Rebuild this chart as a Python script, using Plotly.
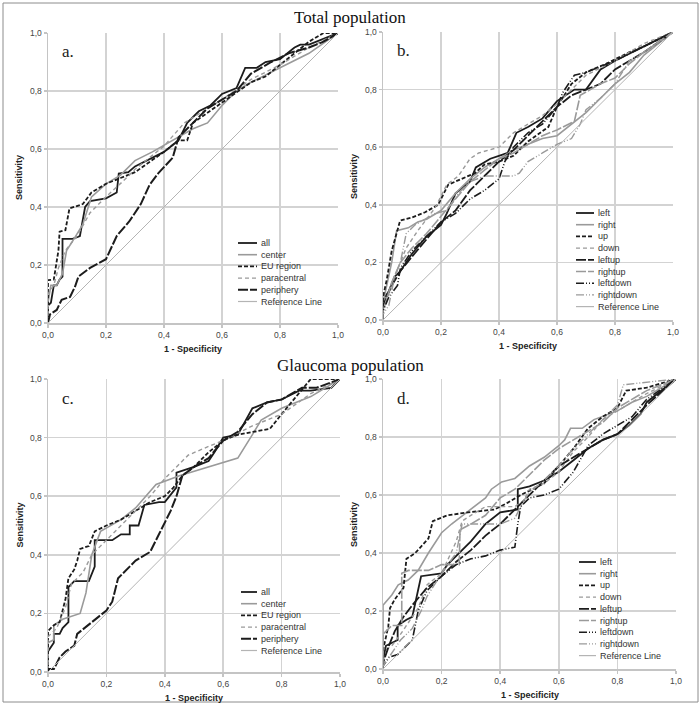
import plotly.graph_objects as go

# ---------------- data (1 - specificity, sensitivity) ----------------
TICK_VALS = [0.0, 0.2, 0.4, 0.6, 0.8, 1.0]
TICK_TEXT = ["0,0", "0,2", "0,4", "0,6", "0,8", "1,0"]
Y_GRID_VALS = [0.2, 0.4, 0.6, 0.8]

REF = [(0, 0), (1, 1)]

# Panel a - Total population, regions
A_ALL = [(0, 0), (0, 0.06), (0.01, 0.07), (0.02, 0.13), (0.03, 0.13), (0.04, 0.15), (0.05, 0.16),
         (0.05, 0.29), (0.085, 0.29), (0.11, 0.30), (0.128, 0.40), (0.145, 0.42), (0.20, 0.43),
         (0.237, 0.45), (0.244, 0.515), (0.277, 0.52), (0.30, 0.54), (0.36, 0.57), (0.40, 0.59),
         (0.45, 0.63), (0.48, 0.69), (0.52, 0.73), (0.56, 0.75), (0.59, 0.78), (0.60, 0.79),
         (0.65, 0.81), (0.68, 0.88), (0.72, 0.88), (0.75, 0.90), (0.80, 0.91), (0.85, 0.95),
         (0.87, 0.96), (0.90, 0.96), (1, 1)]
A_CENTER = [(0, 0), (0, 0.07), (0.01, 0.13), (0.03, 0.13), (0.05, 0.17), (0.064, 0.25), (0.087, 0.286),
            (0.12, 0.34), (0.15, 0.435), (0.20, 0.48), (0.25, 0.51), (0.30, 0.56), (0.36, 0.59),
            (0.45, 0.64), (0.50, 0.67), (0.55, 0.69), (0.60, 0.75), (0.65, 0.80), (0.70, 0.83),
            (0.80, 0.88), (0.90, 0.93), (1, 1)]
A_EU = [(0, 0), (0, 0.148), (0.02, 0.15), (0.036, 0.25), (0.04, 0.315), (0.06, 0.32), (0.074, 0.395),
        (0.12, 0.41), (0.15, 0.45), (0.20, 0.48), (0.25, 0.50), (0.30, 0.52), (0.40, 0.59),
        (0.45, 0.63), (0.48, 0.63), (0.50, 0.69), (0.60, 0.76), (0.70, 0.83), (0.75, 0.85),
        (0.80, 0.89), (0.90, 0.97), (0.95, 1.0), (1, 1)]
A_PARA = [(0, 0), (0, 0.10), (0.02, 0.13), (0.036, 0.19), (0.06, 0.25), (0.10, 0.30), (0.145, 0.38),
          (0.20, 0.435), (0.26, 0.49), (0.30, 0.53), (0.35, 0.57), (0.40, 0.61), (0.47, 0.69),
          (0.55, 0.74), (0.60, 0.77), (0.70, 0.84), (0.80, 0.89), (0.90, 0.95), (1, 1)]
A_PERI = [(0, 0), (0.007, 0.03), (0.03, 0.045), (0.047, 0.08), (0.076, 0.09), (0.093, 0.125),
          (0.105, 0.16), (0.145, 0.19), (0.20, 0.22), (0.237, 0.30), (0.28, 0.35), (0.32, 0.41),
          (0.35, 0.476), (0.38, 0.516), (0.43, 0.57), (0.45, 0.64), (0.50, 0.69), (0.55, 0.74),
          (0.60, 0.77), (0.65, 0.80), (0.70, 0.86), (0.77, 0.90), (0.83, 0.93), (0.90, 0.95),
          (0.95, 0.97), (1, 1)]

# Panel b - Total population, quadrants
B_LEFT = [(0, 0), (0, 0.07), (0.02, 0.10), (0.04, 0.15), (0.06, 0.17), (0.10, 0.23), (0.15, 0.29),
          (0.20, 0.33), (0.22, 0.37), (0.25, 0.44), (0.30, 0.48), (0.32, 0.53), (0.37, 0.56),
          (0.43, 0.58), (0.46, 0.65), (0.50, 0.67), (0.55, 0.70), (0.60, 0.76), (0.66, 0.80),
          (0.70, 0.80), (0.75, 0.87), (0.80, 0.90), (0.90, 0.95), (1, 1)]
B_RIGHT = [(0, 0), (0, 0.06), (0.03, 0.20), (0.047, 0.31), (0.087, 0.32), (0.12, 0.34), (0.15, 0.35),
           (0.20, 0.38), (0.25, 0.44), (0.30, 0.49), (0.35, 0.53), (0.40, 0.56), (0.45, 0.59),
           (0.50, 0.61), (0.55, 0.63), (0.60, 0.64), (0.65, 0.68), (0.70, 0.72), (0.75, 0.77),
           (0.80, 0.82), (0.85, 0.86), (0.90, 0.92), (1, 1)]
B_UP = [(0, 0), (0, 0.08), (0.013, 0.14), (0.03, 0.24), (0.059, 0.345), (0.10, 0.356), (0.145, 0.374),
        (0.19, 0.40), (0.225, 0.47), (0.27, 0.49), (0.317, 0.51), (0.35, 0.54), (0.40, 0.55),
        (0.45, 0.57), (0.50, 0.62), (0.57, 0.67), (0.60, 0.74), (0.65, 0.82), (0.70, 0.86),
        (0.77, 0.89), (0.85, 0.93), (0.90, 0.95), (1, 1)]
B_DOWN = [(0, 0), (0, 0.05), (0.04, 0.15), (0.08, 0.25), (0.12, 0.31), (0.18, 0.39), (0.22, 0.47),
          (0.26, 0.50), (0.30, 0.56), (0.33, 0.58), (0.40, 0.60), (0.45, 0.65), (0.50, 0.68),
          (0.55, 0.71), (0.60, 0.75), (0.65, 0.80), (0.70, 0.85), (0.80, 0.90), (0.90, 0.96), (1, 1)]
B_LEFTUP = [(0, 0), (0, 0.05), (0.03, 0.12), (0.06, 0.17), (0.10, 0.22), (0.15, 0.28), (0.20, 0.34),
            (0.25, 0.38), (0.30, 0.45), (0.35, 0.50), (0.40, 0.55), (0.45, 0.59), (0.50, 0.64),
            (0.55, 0.69), (0.60, 0.74), (0.65, 0.78), (0.70, 0.80), (0.75, 0.82), (0.80, 0.87),
            (0.90, 0.93), (1, 1)]
B_RIGHTUP = [(0, 0), (0, 0.03), (0.03, 0.13), (0.06, 0.20), (0.10, 0.25), (0.15, 0.30), (0.20, 0.36),
             (0.25, 0.42), (0.30, 0.48), (0.35, 0.52), (0.40, 0.56), (0.45, 0.58), (0.50, 0.61),
             (0.55, 0.64), (0.60, 0.66), (0.66, 0.69), (0.68, 0.78), (0.75, 0.82), (0.80, 0.84),
             (0.85, 0.89), (0.90, 0.93), (1, 1)]
B_LEFTDOWN = [(0, 0), (0, 0.03), (0.02, 0.08), (0.05, 0.12), (0.06, 0.18), (0.10, 0.24), (0.15, 0.29),
              (0.20, 0.34), (0.25, 0.37), (0.30, 0.42), (0.35, 0.45), (0.40, 0.49), (0.42, 0.55),
              (0.45, 0.60), (0.50, 0.65), (0.55, 0.68), (0.60, 0.74), (0.62, 0.79), (0.66, 0.85),
              (0.70, 0.86), (0.75, 0.88), (0.80, 0.90), (0.90, 0.95), (1, 1)]
B_RIGHTDOWN = [(0, 0), (0, 0.02), (0.02, 0.05), (0.04, 0.15), (0.06, 0.20), (0.08, 0.30), (0.11, 0.33),
               (0.18, 0.37), (0.22, 0.38), (0.26, 0.44), (0.30, 0.48), (0.35, 0.50), (0.40, 0.50),
               (0.45, 0.50), (0.47, 0.51), (0.50, 0.55), (0.55, 0.58), (0.60, 0.61), (0.65, 0.63),
               (0.68, 0.68), (0.70, 0.73), (0.75, 0.77), (0.80, 0.82), (0.85, 0.90), (0.90, 0.93), (1, 1)]

# Panel c - Glaucoma population, regions
C_ALL = [(0, 0), (0, 0.07), (0.02, 0.10), (0.02, 0.13), (0.04, 0.13), (0.05, 0.15), (0.07, 0.17),
         (0.07, 0.29), (0.09, 0.31), (0.14, 0.31), (0.16, 0.36), (0.16, 0.45), (0.22, 0.45),
         (0.25, 0.47), (0.28, 0.47), (0.28, 0.50), (0.31, 0.50), (0.33, 0.57), (0.38, 0.58),
         (0.40, 0.58), (0.44, 0.63), (0.44, 0.68), (0.50, 0.70), (0.55, 0.72), (0.57, 0.75),
         (0.60, 0.80), (0.65, 0.81), (0.70, 0.90), (0.75, 0.92), (0.80, 0.93), (0.86, 0.96),
         (0.90, 0.96), (0.97, 0.97), (1, 1)]
C_CENTER = [(0, 0), (0, 0.10), (0.02, 0.11), (0.02, 0.16), (0.05, 0.18), (0.11, 0.20), (0.13, 0.27),
            (0.15, 0.40), (0.18, 0.48), (0.25, 0.52), (0.30, 0.56), (0.37, 0.64), (0.45, 0.67),
            (0.55, 0.70), (0.65, 0.73), (0.70, 0.81), (0.73, 0.86), (0.80, 0.90), (0.90, 0.94), (1, 1)]
C_EU = [(0, 0), (0, 0.14), (0.02, 0.16), (0.04, 0.17), (0.06, 0.25), (0.07, 0.32), (0.09, 0.35),
        (0.10, 0.38), (0.11, 0.42), (0.14, 0.43), (0.16, 0.48), (0.20, 0.50), (0.25, 0.52),
        (0.30, 0.55), (0.35, 0.58), (0.40, 0.60), (0.43, 0.63), (0.46, 0.67), (0.50, 0.70),
        (0.55, 0.75), (0.60, 0.79), (0.65, 0.81), (0.70, 0.82), (0.76, 0.83), (0.80, 0.88),
        (0.85, 0.94), (0.90, 1.0), (1, 1)]
C_PARA = [(0, 0), (0, 0.12), (0.03, 0.15), (0.06, 0.22), (0.08, 0.30), (0.12, 0.34), (0.15, 0.40),
          (0.20, 0.45), (0.25, 0.50), (0.30, 0.55), (0.35, 0.60), (0.40, 0.66), (0.48, 0.74),
          (0.55, 0.77), (0.60, 0.79), (0.70, 0.84), (0.80, 0.88), (0.90, 0.95), (1, 1)]
C_PERI = [(0, 0), (0, 0.01), (0.02, 0.01), (0.04, 0.05), (0.06, 0.07), (0.09, 0.09), (0.10, 0.13),
          (0.15, 0.17), (0.20, 0.21), (0.22, 0.24), (0.24, 0.32), (0.30, 0.38), (0.35, 0.41),
          (0.38, 0.47), (0.42, 0.55), (0.44, 0.60), (0.46, 0.67), (0.50, 0.70), (0.55, 0.73),
          (0.60, 0.79), (0.65, 0.82), (0.70, 0.88), (0.75, 0.92), (0.80, 0.93), (0.87, 0.97),
          (0.92, 0.97), (1, 1)]

# Panel d - Glaucoma population, quadrants
D_LEFT = [(0, 0), (0, 0.03), (0.01, 0.08), (0.03, 0.09), (0.05, 0.10), (0.05, 0.15), (0.08, 0.17),
          (0.10, 0.18), (0.13, 0.32), (0.20, 0.33), (0.22, 0.36), (0.30, 0.44), (0.35, 0.50),
          (0.40, 0.54), (0.46, 0.55), (0.46, 0.62), (0.50, 0.63), (0.55, 0.65), (0.60, 0.68),
          (0.65, 0.72), (0.70, 0.76), (0.75, 0.79), (0.80, 0.81), (0.84, 0.84), (0.88, 0.88),
          (0.90, 0.92), (0.95, 0.96), (1, 1)]
D_RIGHT = [(0, 0), (0, 0.22), (0.03, 0.255), (0.052, 0.29), (0.086, 0.307), (0.12, 0.34), (0.155, 0.40),
           (0.20, 0.47), (0.234, 0.50), (0.28, 0.537), (0.31, 0.56), (0.35, 0.59), (0.37, 0.62),
           (0.405, 0.645), (0.45, 0.657), (0.50, 0.70), (0.55, 0.73), (0.60, 0.77), (0.62, 0.79),
           (0.64, 0.83), (0.68, 0.83), (0.72, 0.86), (0.80, 0.89), (0.85, 0.92), (0.90, 0.94), (1, 1)]
D_UP = [(0, 0), (0, 0.065), (0.018, 0.146), (0.024, 0.21), (0.04, 0.24), (0.07, 0.28), (0.08, 0.38),
        (0.11, 0.40), (0.155, 0.45), (0.17, 0.51), (0.22, 0.53), (0.29, 0.54), (0.38, 0.55),
        (0.42, 0.57), (0.47, 0.60), (0.55, 0.64), (0.60, 0.70), (0.65, 0.76), (0.70, 0.83),
        (0.75, 0.87), (0.80, 0.90), (0.83, 0.96), (0.90, 0.97), (1, 1)]
D_DOWN = [(0, 0), (0, 0.06), (0.03, 0.08), (0.06, 0.12), (0.10, 0.18), (0.12, 0.21), (0.15, 0.29),
          (0.20, 0.33), (0.25, 0.44), (0.27, 0.51), (0.30, 0.53), (0.35, 0.56), (0.45, 0.56),
          (0.48, 0.58), (0.50, 0.62), (0.55, 0.64), (0.60, 0.68), (0.65, 0.75), (0.70, 0.80),
          (0.75, 0.86), (0.80, 0.89), (0.90, 0.95), (1, 1)]
D_LEFTUP = [(0, 0), (0, 0.02), (0.02, 0.08), (0.04, 0.13), (0.07, 0.18), (0.10, 0.22), (0.15, 0.28),
            (0.20, 0.32), (0.25, 0.37), (0.30, 0.41), (0.35, 0.46), (0.40, 0.50), (0.45, 0.55),
            (0.50, 0.60), (0.55, 0.65), (0.60, 0.70), (0.65, 0.73), (0.70, 0.76), (0.75, 0.79),
            (0.80, 0.81), (0.85, 0.86), (0.90, 0.91), (1, 1)]
D_RIGHTUP = [(0, 0), (0, 0.12), (0.03, 0.15), (0.064, 0.15), (0.064, 0.33), (0.087, 0.34), (0.155, 0.34),
             (0.20, 0.36), (0.26, 0.36), (0.263, 0.48), (0.30, 0.50), (0.35, 0.53), (0.40, 0.59),
             (0.45, 0.62), (0.50, 0.67), (0.55, 0.72), (0.60, 0.76), (0.70, 0.82), (0.75, 0.85),
             (0.80, 0.90), (0.90, 0.96), (1, 1)]
D_LEFTDOWN = [(0, 0), (0, 0.01), (0.02, 0.04), (0.05, 0.05), (0.07, 0.07), (0.10, 0.10), (0.12, 0.20),
              (0.15, 0.27), (0.20, 0.32), (0.25, 0.36), (0.30, 0.38), (0.35, 0.39), (0.40, 0.41),
              (0.45, 0.42), (0.46, 0.50), (0.47, 0.56), (0.50, 0.59), (0.55, 0.60), (0.60, 0.62),
              (0.65, 0.68), (0.70, 0.77), (0.75, 0.81), (0.80, 0.84), (0.85, 0.87), (0.90, 0.93), (1, 1)]
D_RIGHTDOWN = [(0, 0), (0, 0.01), (0.02, 0.04), (0.06, 0.10), (0.10, 0.14), (0.13, 0.20), (0.15, 0.25),
               (0.20, 0.33), (0.25, 0.40), (0.27, 0.50), (0.30, 0.50), (0.35, 0.50), (0.40, 0.50),
               (0.45, 0.52), (0.48, 0.58), (0.50, 0.61), (0.55, 0.65), (0.60, 0.70), (0.65, 0.76),
               (0.70, 0.81), (0.75, 0.86), (0.80, 0.91), (0.82, 0.98), (0.90, 0.99), (1, 1)]

REGION_NAMES = ["all", "center", "EU region", "paracentral", "periphery", "Reference Line"]
QUAD_NAMES = ["left", "right", "up", "down", "leftup", "rightup", "leftdown", "rightdown", "Reference Line"]

PANEL_A = [A_ALL, A_CENTER, A_EU, A_PARA, A_PERI, REF]
PANEL_B = [B_LEFT, B_RIGHT, B_UP, B_DOWN, B_LEFTUP, B_RIGHTUP, B_LEFTDOWN, B_RIGHTDOWN, REF]
PANEL_C = [C_ALL, C_CENTER, C_EU, C_PARA, C_PERI, REF]
PANEL_D = [D_LEFT, D_RIGHT, D_UP, D_DOWN, D_LEFTUP, D_RIGHTUP, D_LEFTDOWN, D_RIGHTDOWN, REF]

# ---------------- styles ----------------
BLK = "#1c1c1c"
GRY = "#9a9a9a"
REFC = "#b4b4b4"
STYLES = {
    "all": dict(color=BLK, width=1.8, dash="solid"),
    "center": dict(color=GRY, width=1.6, dash="solid"),
    "EU region": dict(color=BLK, width=1.8, dash="4px,2px"),
    "paracentral": dict(color=GRY, width=1.4, dash="4px,3px"),
    "periphery": dict(color=BLK, width=2.0, dash="10px,2px"),
    "left": dict(color=BLK, width=1.8, dash="solid"),
    "right": dict(color=GRY, width=1.6, dash="solid"),
    "up": dict(color=BLK, width=1.8, dash="4px,2px"),
    "down": dict(color=GRY, width=1.4, dash="4px,3px"),
    "leftup": dict(color=BLK, width=1.8, dash="10px,2px"),
    "rightup": dict(color=GRY, width=1.6, dash="10px,2px"),
    "leftdown": dict(color=BLK, width=1.6, dash="8px,2px,1px,2px,1px,2px"),
    "rightdown": dict(color=GRY, width=1.4, dash="8px,2px,1px,2px,1px,2px"),
    "Reference Line": dict(color=REFC, width=1.0, dash="solid"),
}

W, H = 700, 714
# plot-area pixel boxes: (left, right, top, bottom)
BOXES = {"a": (48, 338, 33, 323), "b": (383, 673, 32, 320),
         "c": (48, 340, 379, 672), "d": (383, 676, 379, 669)}
# legend: (sample x0, sample x1, first row y) in px
LEG = {"a": (238, 257, 243), "b": (576, 594, 213), "c": (241, 257, 592), "d": (579, 596, 562)}
ROW = 11.7

panels = [("a", REGION_NAMES, PANEL_A), ("b", QUAD_NAMES, PANEL_B),
          ("c", REGION_NAMES, PANEL_C), ("d", QUAD_NAMES, PANEL_D)]

fig = go.Figure()
shapes = []
annotations = []

GRID = "#d3d3d3"
AXC = "#c4c4c4"
for i, (key, names, curves) in enumerate(panels):
    n = "" if i == 0 else str(i + 1)
    xa, ya = "x" + n, "y" + n
    l, r, t, b = BOXES[key]
    for name, pts in zip(names, curves):
        st = STYLES[name]
        fig.add_trace(go.Scatter(
            x=[p[0] for p in pts], y=[p[1] for p in pts], name=name, mode="lines",
            line=dict(color=st["color"], width=st["width"], dash=st["dash"]),
            xaxis=xa, yaxis=ya, showlegend=False, hoverinfo="skip"))
    axcommon = dict(range=[0, 1], tickvals=TICK_VALS, ticktext=TICK_TEXT,
                    zeroline=False, showline=True,
                    linecolor=AXC, linewidth=1.5, ticks="outside", ticklen=3,
                    tickcolor=AXC, tickwidth=1.5,
                    tickfont=dict(family="Liberation Sans", size=8.5, color="#444"),
                    fixedrange=True, automargin=False)
    fig.update_layout(**{
        "xaxis" + n: dict(domain=[l / W, r / W], anchor=ya, showgrid=True,
                          gridcolor=GRID, gridwidth=1.5, **axcommon),
        "yaxis" + n: dict(domain=[1 - b / H, 1 - t / H], anchor=xa, showgrid=False,
                          minor=dict(tickvals=Y_GRID_VALS, showgrid=True, gridcolor=GRID,
                                     gridwidth=1.5, ticks=""),
                          **axcommon),
    })
    # panel letter
    annotations.append(dict(text=key + ".", x=(l + 12) / W, y=1 - (t + 19) / H, xref="paper", yref="paper",
                            xanchor="left", yanchor="middle", showarrow=False,
                            font=dict(family="Liberation Serif", size=17, color="#222")))
    # axis titles
    annotations.append(dict(text="<b>1 - Specificity</b>", x=(l + r) / 2 / W, y=1 - (b + 26) / H,
                            xref="paper", yref="paper", xanchor="center", yanchor="middle",
                            showarrow=False, font=dict(family="Liberation Sans", size=9, color="#222")))
    annotations.append(dict(text="<b>Sensitivity</b>", x=(l - 29) / W, y=1 - (t + b) / 2 / H,
                            xref="paper", yref="paper", xanchor="center", yanchor="middle",
                            textangle=-90, showarrow=False,
                            font=dict(family="Liberation Sans", size=9, color="#222")))
    # legend
    sx0, sx1, ry = LEG[key]
    nrows = len(names)
    shapes.append(dict(type="rect", xref="paper", yref="paper", layer="between",
                       x0=(sx0 - 3) / W, x1=(r - 8) / W,
                       y0=1 - (ry + ROW * (nrows - 1) + 6) / H, y1=1 - (ry - 6) / H,
                       fillcolor="white", line=dict(width=0)))
    for j, name in enumerate(names):
        st = STYLES[name]
        yy = 1 - (ry + ROW * j) / H
        shapes.append(dict(type="line", xref="paper", yref="paper", layer="above",
                           x0=sx0 / W, x1=sx1 / W, y0=yy, y1=yy,
                           line=dict(color=st["color"], width=max(st["width"], 1.2), dash=st["dash"])))
        annotations.append(dict(text=name, x=(sx1 + 2) / W, y=yy, xref="paper", yref="paper",
                                xanchor="left", yanchor="middle", showarrow=False,
                                font=dict(family="Liberation Sans", size=9, color="#333")))

# population titles
annotations.append(dict(text="Total population", x=0.5, y=1 - 17 / H, xref="paper", yref="paper",
                        xanchor="center", yanchor="middle", showarrow=False,
                        font=dict(family="Liberation Serif", size=17, color="#111")))
annotations.append(dict(text="Glaucoma population", x=0.5, y=1 - 365 / H, xref="paper", yref="paper",
                        xanchor="center", yanchor="middle", showarrow=False,
                        font=dict(family="Liberation Serif", size=17, color="#111")))
# outer frame
shapes.append(dict(type="rect", xref="paper", yref="paper", x0=3 / W, x1=698 / W,
                   y0=1 - 702 / H, y1=1 - 3 / H, line=dict(color="#8c8c8c", width=1),
                   fillcolor="rgba(0,0,0,0)", layer="below"))

fig.update_layout(width=W, height=H, margin=dict(l=0, r=0, t=0, b=0),
                  paper_bgcolor="white", plot_bgcolor="white", showlegend=False,
                  shapes=shapes, annotations=annotations)
fig.write_html("out.html", config={"displayModeBar": False, "staticPlot": True},
               post_script="document.body.style.margin='0';document.body.style.overflow='hidden';")
